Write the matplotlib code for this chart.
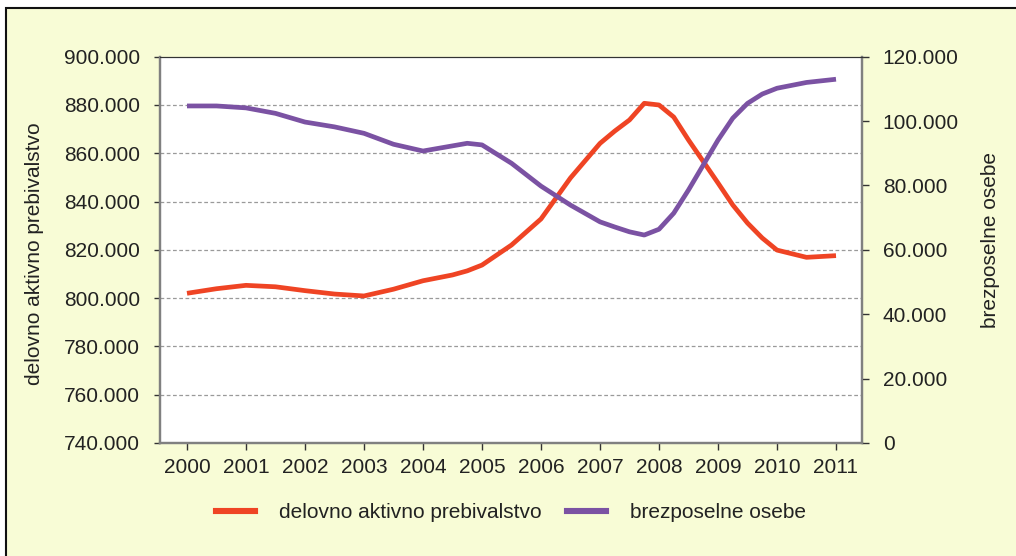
import matplotlib.pyplot as plt
from matplotlib.patches import Rectangle
from matplotlib.ticker import FuncFormatter, FixedLocator

plt.rcParams["font.family"] = ["Liberation Sans", "DejaVu Sans"]

# --- DATA (half-year steps, quarters near turns) ---
years = [2000, 2000.5, 2001, 2001.5, 2002, 2002.5, 2003, 2003.5, 2004, 2004.5,
         2004.75, 2005, 2005.5, 2006, 2006.5, 2007, 2007.25, 2007.5, 2007.75, 2008,
         2008.25, 2008.5, 2009, 2009.25, 2009.5, 2009.75, 2010, 2010.5, 2011]
aktivno = [802000, 803900, 805300, 804700, 803100, 801700, 800900, 803700, 807200, 809600,
           811300, 813700, 822000, 832800, 849800, 864100, 869200, 873800, 880700, 880000,
           875000, 865500, 847700, 838600, 831100, 824900, 819900, 816900, 817600]
brezposelni = [104700, 104700, 104100, 102400, 99700, 98200, 96200, 92800, 90700, 92300,
               93100, 92600, 86900, 79800, 73900, 68700, 67100, 65600, 64600, 66400,
               71400, 78600, 94100, 100900, 105500, 108400, 110200, 112000, 113000]
year_ticks = list(range(2000, 2012))
left_ticks = list(range(740000, 900001, 20000))
right_ticks = list(range(0, 120001, 20000))

LABEL_LEFT = "delovno aktivno prebivalstvo"
LABEL_RIGHT = "brezposelne osebe"

COLOR_RED = '#EF4424'
COLOR_PURPLE = '#7B52A3'
COLOR_BG = '#F8FCD6'
COLOR_TEXT = '#222222'
COLOR_AXIS = '#808080'


def dot_thousands(v, pos=None):
    v = int(round(v))
    return "0" if v == 0 else f"{v:,}".replace(",", ".")


fig = plt.figure(figsize=(10.16, 5.56), dpi=100)
fig.patch.set_facecolor('white')

# framed yellow panel
fig.patches.append(Rectangle((6 / 1016, -0.05), 1.1, 1 - 8 / 556 + 0.05,
                             transform=fig.transFigure, facecolor=COLOR_BG,
                             edgecolor='#111111', linewidth=1.5, zorder=-10))

ax = fig.add_axes([160 / 1016, 1 - 443 / 556, 702 / 1016, (443 - 56.7) / 556])
ax.set_facecolor('white')
ax2 = ax.twinx()

ax.plot(years, aktivno, color=COLOR_RED, linewidth=3.4,
        solid_joinstyle='round', solid_capstyle='butt', label=LABEL_LEFT)
ax2.plot(years, brezposelni, color=COLOR_PURPLE, linewidth=3.4,
         solid_joinstyle='round', solid_capstyle='butt', label=LABEL_RIGHT)

ax.set_xlim(2000 - 27 / 59, 2011 + 26 / 59)
ax.set_ylim(740000, 900000)
ax2.set_ylim(0, 120000)

ax.set_xticks(year_ticks)
ax.set_xticklabels([str(y) for y in year_ticks])
ax.yaxis.set_major_locator(FixedLocator(left_ticks))
ax2.yaxis.set_major_locator(FixedLocator(right_ticks))
ax.yaxis.set_major_formatter(FuncFormatter(dot_thousands))
ax2.yaxis.set_major_formatter(FuncFormatter(dot_thousands))

# dashed gridlines
for v in left_ticks[1:-1]:
    ax.axhline(v, color='#9A9A9A', linewidth=0.9, linestyle=(0, (3, 2)), zorder=0.5)

for a in (ax, ax2):
    for side in ('left', 'right', 'bottom'):
        a.spines[side].set_color(COLOR_AXIS)
        a.spines[side].set_linewidth(1.6)
    a.spines['top'].set_color('#333333')
    a.spines['top'].set_linewidth(0.8)

ax.tick_params(axis='y', direction='out', length=4.5, width=1, color='#333333',
               labelsize=15, labelcolor=COLOR_TEXT, pad=10)
ax.tick_params(axis='x', direction='out', length=5, width=1, color='#333333',
               labelsize=15, labelcolor=COLOR_TEXT, pad=6)
ax2.tick_params(axis='y', direction='out', length=5, width=1, color='#333333',
                labelsize=15, labelcolor=COLOR_TEXT, pad=10)

fig.text(35 / 1016, 1 - 254 / 556, LABEL_LEFT, rotation=90, ha='center', va='center',
         fontsize=15, color=COLOR_TEXT)
fig.text(990 / 1016, 1 - 240 / 556, LABEL_RIGHT, rotation=90, ha='center', va='center',
         fontsize=15, color=COLOR_TEXT)

h1 = plt.Line2D([], [], color=COLOR_RED, linewidth=4.4)
h2 = plt.Line2D([], [], color=COLOR_PURPLE, linewidth=4.4)
fig.legend([h1, h2], [LABEL_LEFT, LABEL_RIGHT], loc='center',
           bbox_to_anchor=(511 / 1016, 1 - 512.7 / 556), ncol=2, frameon=False,
           fontsize=15, handlelength=1.9, handletextpad=1.15, columnspacing=1.2,
           labelcolor=COLOR_TEXT)

fig.savefig('out.png', dpi=100, facecolor=fig.get_facecolor())
plt.close(fig)
